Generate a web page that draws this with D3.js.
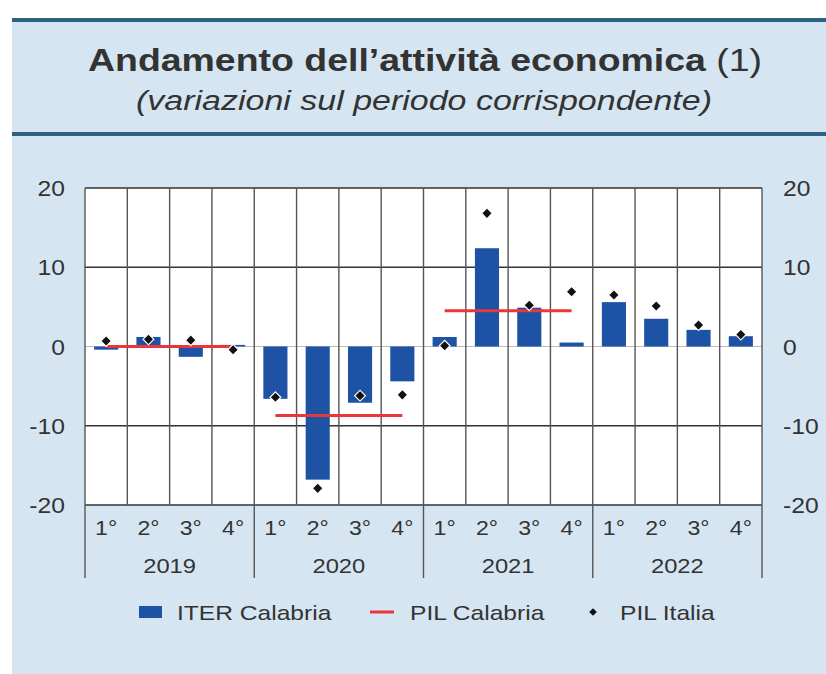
<!DOCTYPE html>
<html>
<head>
<meta charset="utf-8">
<script src="https://cdn.jsdelivr.net/npm/d3@7"></script>
<style>
  html, body { margin: 0; padding: 0; background: #fff; }
  svg { display: block; font-family: "Liberation Sans", Arial, sans-serif; }
</style>
</head>
<body>
<svg id="chart" width="826" height="674"></svg>
<script>
// Quarterly data, 2019–2022
const years = ["2019", "2020", "2021", "2022"];
const quarterLabels = ["1°", "2°", "3°", "4°"];
const iterCalabria = [-0.4, 1.2, -1.3, 0.2, -6.6, -16.8, -7.1, -4.4, 1.2, 12.4, 4.9, 0.5, 5.6, 3.5, 2.1, 1.3];
const pilItalia = [0.7, 0.9, 0.8, -0.4, -6.4, -17.9, -6.2, -6.1, 0.1, 16.8, 5.2, 6.9, 6.5, 5.1, 2.7, 1.5];
// Annual regional GDP (shown as a segment spanning the year's quarters)
const pilCalabriaYears = ["2019", "2020", "2021"];
const pilCalabria = [0.0, -8.7, 4.5];
const yTicks = [-20, -10, 0, 10, 20];

const svg = d3.select("#chart");
const W = 826, H = 674;
const panel = "#d5e6f2", rule = "#2d6283", ink = "#333";

// Widen text horizontally by a factor (the layout uses a slightly expanded face)
function stretch(sel, factor) {
  sel.each(function () {
    const len = this.getComputedTextLength();
    d3.select(this).attr("textLength", len * factor).attr("lengthAdjust", "spacingAndGlyphs");
  });
  return sel;
}

// Panel background and header rules
svg.append("rect").attr("x", 12).attr("y", 18).attr("width", W - 12).attr("height", H - 18).attr("fill", panel);
svg.append("rect").attr("x", 12).attr("y", 18).attr("width", W - 12).attr("height", 4).attr("fill", rule);
svg.append("rect").attr("x", 12).attr("y", 132).attr("width", W - 12).attr("height", 4).attr("fill", rule);

// Title
const title = svg.append("text").attr("x", 425).attr("y", 71).attr("text-anchor", "middle")
  .attr("font-size", 32).attr("fill", ink);
title.append("tspan").attr("font-weight", "bold").text("Andamento dell’attività economica ");
title.append("tspan").text("(1)");
title.attr("textLength", 674).attr("lengthAdjust", "spacingAndGlyphs");
svg.append("text").attr("x", 424).attr("y", 110).attr("text-anchor", "middle")
  .attr("font-size", 27).attr("font-style", "italic").attr("fill", ink)
  .attr("textLength", 576).attr("lengthAdjust", "spacingAndGlyphs")
  .text("(variazioni sul periodo corrispondente)");

// Scales
const keys = d3.range(16);
const x = d3.scaleBand().domain(keys).range([85, 762]).paddingInner(0.43).paddingOuter(0.215);
const xs = d3.scaleBand().domain(keys).range([85, 762]);
const y = d3.scaleLinear().domain([-20, 20]).range([505, 188]);

// Plot area
svg.append("rect").attr("x", 85).attr("y", 188).attr("width", 677).attr("height", 317).attr("fill", "#fff");

const g = svg.append("g");
// Horizontal grid
g.selectAll("line.h").data(yTicks).join("line")
  .attr("x1", 85).attr("x2", 762)
  .attr("y1", d => y(d)).attr("y2", d => y(d))
  .attr("stroke", d => d === 0 ? "#bbb" : "#333").attr("stroke-width", d => d === 0 ? 1 : 1.4);
// Vertical grid (quarter boundaries)
g.selectAll("line.v").data(d3.range(17)).join("line")
  .attr("x1", d => 85 + d * xs.step()).attr("x2", d => 85 + d * xs.step())
  .attr("y1", 188).attr("y2", 505)
  .attr("stroke", "#555").attr("stroke-width", 1.4);

// Bars: ITER Calabria
g.selectAll("rect.bar").data(iterCalabria).join("rect")
  .attr("x", (d, i) => x(i)).attr("width", x.bandwidth())
  .attr("y", d => y(Math.max(0, d))).attr("height", d => Math.abs(y(d) - y(0)))
  .attr("fill", "#1d52a5");

// Annual PIL Calabria segments
g.selectAll("line.pil").data(pilCalabria).join("line")
  .attr("x1", (d, i) => xs(years.indexOf(pilCalabriaYears[i]) * 4) + xs.bandwidth() / 2)
  .attr("x2", (d, i) => xs(years.indexOf(pilCalabriaYears[i]) * 4 + 3) + xs.bandwidth() / 2)
  .attr("y1", d => y(d)).attr("y2", d => y(d))
  .attr("stroke", "#e8373a").attr("stroke-width", 3);

// Diamonds: PIL Italia (squares turned 45°)
const diamond = d3.symbol().type(d3.symbolSquare).size(58);
g.selectAll("path.dia").data(pilItalia).join("path")
  .attr("d", diamond)
  .attr("transform", (d, i) => `translate(${xs(i) + xs.bandwidth() / 2},${y(d)}) rotate(45)`)
  .attr("fill", "#111").attr("stroke", "#fff").attr("stroke-width", 1.2);

// Y axes (both sides)
stretch(svg.append("g").selectAll("text").data(yTicks).join("text")
  .attr("x", 65).attr("y", d => y(d) + 8).attr("text-anchor", "end")
  .attr("font-size", 22).attr("fill", ink).text(d => d), 1.12);
stretch(svg.append("g").selectAll("text").data(yTicks).join("text")
  .attr("x", 783).attr("y", d => y(d) + 8).attr("text-anchor", "start")
  .attr("font-size", 22).attr("fill", ink).text(d => d), 1.12);

// X axis: quarter labels and year groups
stretch(svg.append("g").selectAll("text").data(keys).join("text")
  .attr("x", d => xs(d) + xs.bandwidth() / 2).attr("y", 535).attr("text-anchor", "middle")
  .attr("font-size", 21).attr("fill", ink).text(d => quarterLabels[d % 4]), 1.1);
stretch(svg.append("g").selectAll("text").data(years).join("text")
  .attr("x", (d, i) => 85 + (i * 4 + 2) * xs.step()).attr("y", 573).attr("text-anchor", "middle")
  .attr("font-size", 21).attr("fill", ink).text(d => d), 1.13);
svg.append("g").selectAll("line").data(d3.range(5)).join("line")
  .attr("x1", d => 85 + d * 4 * xs.step()).attr("x2", d => 85 + d * 4 * xs.step())
  .attr("y1", 505).attr("y2", 578).attr("stroke", "#555").attr("stroke-width", 1.4);

// Legend
const lg = svg.append("g").attr("font-size", 21).attr("fill", ink);
lg.append("rect").attr("x", 139).attr("y", 606).attr("width", 23).attr("height", 12).attr("fill", "#1d52a5");
stretch(lg.append("text").attr("x", 177).attr("y", 620).text("ITER Calabria"), 1.17);
lg.append("line").attr("x1", 370).attr("x2", 394).attr("y1", 612).attr("y2", 612).attr("stroke", "#e8373a").attr("stroke-width", 3);
stretch(lg.append("text").attr("x", 410).attr("y", 620).text("PIL Calabria"), 1.17);
lg.append("path").attr("d", d3.symbol().type(d3.symbolSquare).size(30)).attr("transform", "translate(593,612) rotate(45)").attr("fill", "#111");
stretch(lg.append("text").attr("x", 620).attr("y", 620).text("PIL Italia"), 1.17);
</script>
</body>
</html>
